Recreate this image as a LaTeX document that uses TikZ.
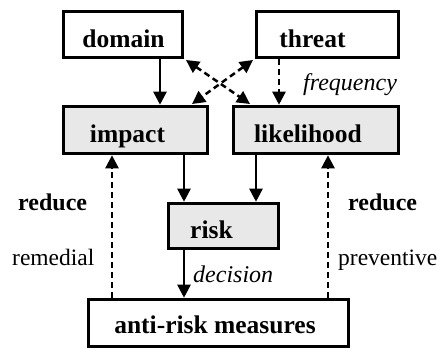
\documentclass[tikz,border=0pt]{standalone}
\usepackage{fontspec}
\setmainfont{Liberation Serif}
\usetikzlibrary{arrows.meta}
\begin{document}
\begin{tikzpicture}[x=1pt,y=-1pt,
  box/.style={draw=black,line width=3.6pt,inner sep=0pt,fill=white},
  gbox/.style={box,fill=gray!18},
  btxt/.style={anchor=base,inner sep=0pt,font=\fontsize{25.5}{30}\selectfont\bfseries},
  side/.style={anchor=base west,inner sep=0pt,font=\fontsize{23.5}{28}\selectfont},
  sideb/.style={side,font=\fontsize{24}{28}\selectfont\bfseries},
  ital/.style={side,font=\fontsize{24}{28}\selectfont\itshape},
  arr/.style={line width=2.5pt,-{Triangle[length=13pt,width=13pt]}},
  darr/.style={arr,dash pattern=on 6pt off 4pt},
  dd/.style={line width=2.5pt,dash pattern=on 6pt off 4pt,{Triangle[length=13pt,width=13pt]}-{Triangle[length=13pt,width=13pt]}}]
\useasboundingbox (0,0) rectangle (437,349);
% boxes
\node[box,minimum width=119pt,minimum height=46pt] (domain) at (123,34.5) {};
\node[box,minimum width=142pt,minimum height=46pt] (threat) at (327.5,34.5) {};
\node[gbox,minimum width=144pt,minimum height=47pt] (impact) at (135.5,130) {};
\node[gbox,minimum width=165pt,minimum height=47pt] (likelihood) at (316,130) {};
\node[gbox,minimum width=110pt,minimum height=45pt] (risk) at (223.5,226) {};
\node[box,minimum width=260pt,minimum height=47pt] (anti) at (218.5,323) {};
% box texts
\node[btxt] (tdomain) at (123.5,47) {domain};
\node[btxt] (tthreat) at (312.5,47) {threat};
\node[btxt] (timpact) at (127.5,142) {impact};
\node[btxt] (tlike) at (308,142) {likelihood};
\node[btxt] (trisk) at (211.5,238) {risk};
\node[btxt] (tanti) at (215,333) {anti-risk measures};
% side labels
\node[sideb] (redl) at (18,210) {reduce};
\node[side] (rem) at (12,265) {remedial};
\node[sideb] (redr) at (348,210) {reduce};
\node[side] (prev) at (338,265) {preventive};
\node[ital] (freq) at (303,90) {frequency};
\node[ital] (dec) at (193,282) {decision};
% solid arrows
\draw[arr] (domain.south -| 160,0) -- (impact.north -| 160,0);
\draw[arr] (impact.south -| 184,0) -- (risk.north -| 184,0);
\draw[arr] (likelihood.south -| 256,0) -- (risk.north -| 256,0);
\draw[arr] (risk.south -| 184,0) -- (anti.north -| 184,0);
% dashed arrows
\draw[darr] (threat.south -| 279,0) -- (likelihood.north -| 279,0);
\draw[darr] (anti.north -| 112,0) -- (impact.south -| 112,0);
\draw[darr] (anti.north -| 328,0) -- (likelihood.south -| 328,0);
% crossing
\coordinate (c1) at (186,60);
\coordinate (c2) at (250,104);
\coordinate (c3) at (253,60);
\coordinate (c4) at (192,104);
\draw[dd] (c1) -- (c2);
\draw[dd] (c3) -- (c4);
\end{tikzpicture}
\end{document}
